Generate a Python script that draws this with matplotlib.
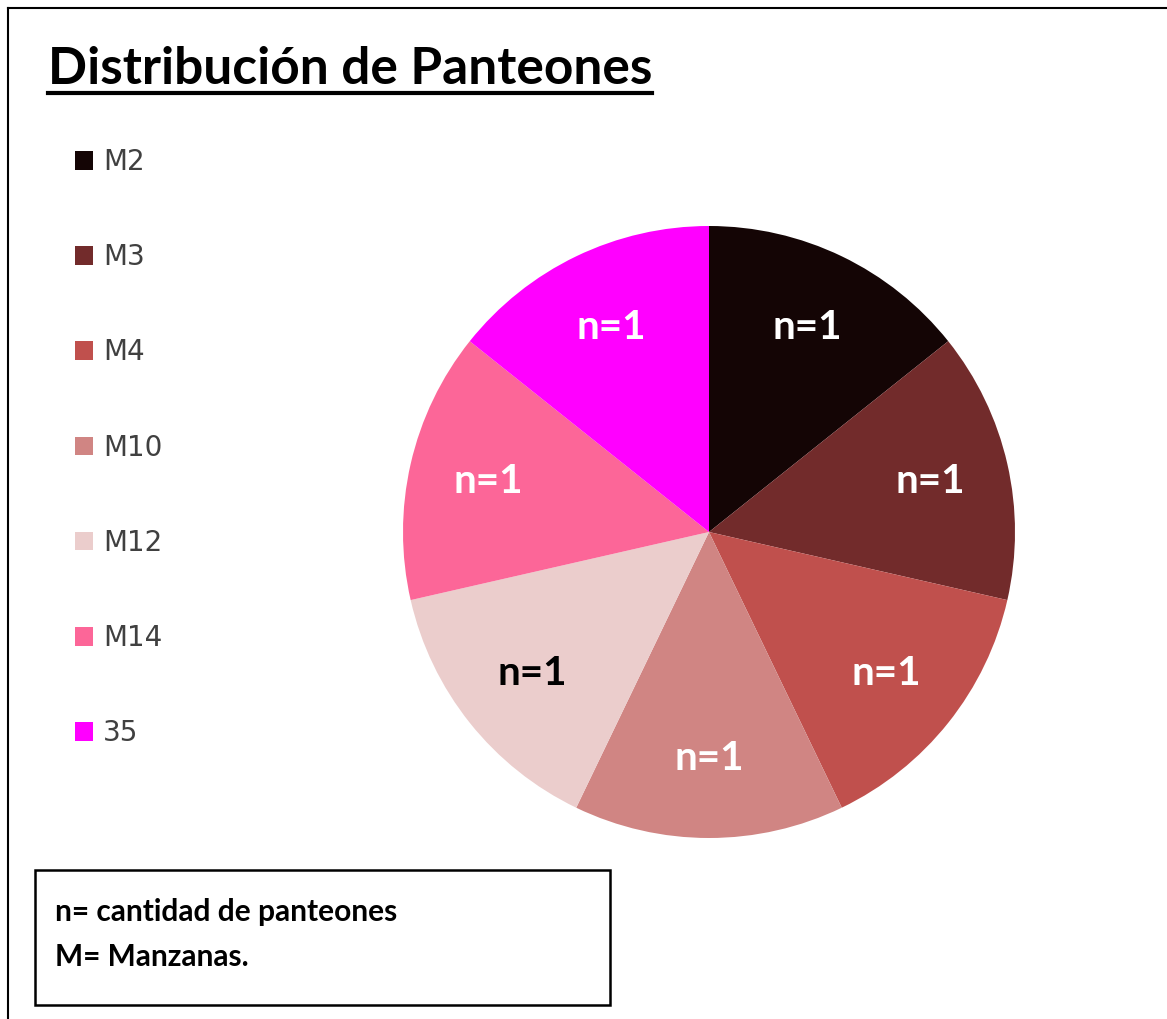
import matplotlib
matplotlib.use('Agg')
import matplotlib.pyplot as plt
from matplotlib.lines import Line2D
from matplotlib.patches import Rectangle

# data
labels = ['M2', 'M3', 'M4', 'M10', 'M12', 'M14', '35']
counts = [1, 1, 1, 1, 1, 1, 1]
colors = ['#140505', '#722b2b', '#c0504d', '#d08583', '#ebcdcc', '#fc6698', '#ff00ff']
text_colors = ['white', 'white', 'white', 'white', 'black', 'white', 'white']

W, H = 1167, 1019
fig = plt.figure(figsize=(W / 100, H / 100), dpi=100)
fig.patch.set_facecolor('white')

# outer frame (left and top edges visible)
fig.add_artist(Line2D([8 / W, 8 / W], [0, 1 - 8 / H], color='black', lw=1.5))
fig.add_artist(Line2D([8 / W, 1], [1 - 8 / H, 1 - 8 / H], color='black', lw=1.5))

# title with underline
fig.text(48 / W, 1 - 84 / H, 'Distribución de Panteones', family='Lato', weight='bold',
         fontsize=37, color='black', ha='left', va='baseline')
fig.add_artist(Line2D([48 / W, 652 / W], [1 - 93 / H, 1 - 93 / H], color='black', lw=3))

# pie
ax = fig.add_axes([403 / W, 181 / H, 612 / W, 612 / H])
wedges, texts = ax.pie(counts, colors=colors, startangle=90, counterclock=False,
                       labels=['n=%d' % c for c in counts], labeldistance=0.74,
                       textprops=dict(family='Lato', weight='bold', fontsize=29))
for t, c in zip(texts, text_colors):
    t.set_color(c)
    t.set_ha('center')
    t.set_va('center')
ax.set_xlim(-1, 1)
ax.set_ylim(-1, 1)
ax.set_aspect('equal')
ax.axis('off')

# legend
fig.legend(wedges, labels, loc='upper left', bbox_to_anchor=(50 / W, 1 - 123 / H),
           frameon=False, labelspacing=2.42, handlelength=0.65, handleheight=0.65,
           handletextpad=0.36, prop=dict(family='DejaVu Sans', size=20),
           labelcolor='#404040')

# note box
fig.add_artist(Rectangle((35 / W, 1 - 1005 / H), 575 / W, 135 / H, transform=fig.transFigure,
                         fill=False, edgecolor='black', lw=1.8))
fig.text(55 / W, 1 - 912 / H, 'n= cantidad de panteones', family='Lato', weight='bold',
         fontsize=21.5, va='center', ha='left')
fig.text(55 / W, 1 - 957 / H, 'M= Manzanas.', family='Lato', weight='bold',
         fontsize=21.5, va='center', ha='left')

fig.savefig('out.png', dpi=100)
